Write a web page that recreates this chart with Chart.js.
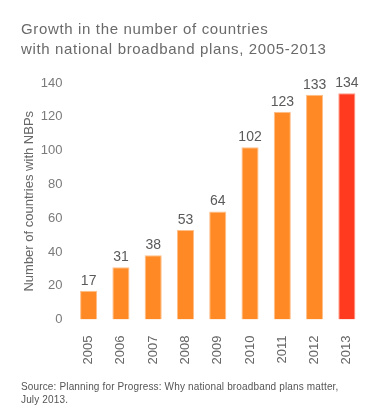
<!DOCTYPE html>
<html>
<head>
<meta charset="utf-8">
<script src="https://cdn.jsdelivr.net/npm/chart.js@4"></script>
<style>
    body { margin: 0; background: #fff; font-family: 'Liberation Sans', Arial, sans-serif; }
    #wrap { position: relative; width: 382px; height: 413px; }
    #title { position: absolute; left: 21px; top: 19px; font-size: 15px; line-height: 20px; color: #6a6a6a; letter-spacing: 0.65px; }
    #source { position: absolute; left: 21px; top: 380px; font-size: 10px; line-height: 13px; color: #555; letter-spacing: 0.15px; }
    canvas { position: absolute; left: 0; top: 0; }
</style>
</head>
<body>
<div id="wrap">
    <canvas id="chart" width="382" height="413"></canvas>
    <div id="title">Growth in the number of countries<br>with national broadband plans, 2005-2013</div>
    <div id="source">Source: Planning for Progress: Why national broadband plans matter,<br>July 2013.</div>
</div>
<script>
const years = ['2005', '2006', '2007', '2008', '2009', '2010', '2011', '2012', '2013'];
const countries = [17, 31, 38, 53, 64, 102, 123, 133, 134];
const yTicks = [0, 20, 40, 60, 80, 100, 120, 140];

const ORANGE = '#ff8a25';
const RED = '#ff3a1e';

// labels above each bar
const valueLabels = {
    id: 'valueLabels',
    afterDatasetsDraw(chart) {
        const ctx = chart.ctx;
        const meta = chart.getDatasetMeta(0);
        ctx.save();
        ctx.font = "14px 'Liberation Sans', Arial, sans-serif";
        ctx.fillStyle = '#5a5a5a';
        ctx.textAlign = 'center';
        ctx.textBaseline = 'bottom';
        meta.data.forEach((bar, i) => {
            ctx.fillText(String(countries[i]), bar.x, bar.y - 3);
        });
        ctx.restore();
    }
};

new Chart(document.getElementById('chart'), {
    type: 'bar',
    data: {
        labels: years,
        datasets: [{
            data: countries,
            backgroundColor: years.map((y, i) => i === years.length - 1 ? RED : ORANGE),
            borderColor: years.map((y, i) => i === years.length - 1 ? '#ff9a88' : '#ffbf8a'),
            borderWidth: 1,
            borderSkipped: 'bottom',
            categoryPercentage: 1,
            barPercentage: 0.53
        }]
    },
    options: {
        responsive: false,
        animation: false,
        layout: { padding: { left: 12, right: 19, top: 83, bottom: 0 } },
        plugins: { legend: { display: false }, tooltip: { enabled: false } },
        scales: {
            x: {
                grid: { display: false },
                border: { display: false },
                ticks: {
                    minRotation: 90, maxRotation: 90, padding: 8,
                    color: '#666',
                    font: { family: "'Liberation Sans', Arial, sans-serif", size: 13 }
                },
                afterFit: s => { s.height = 93.5; }
            },
            y: {
                min: 0, max: 140,
                afterBuildTicks: s => { s.ticks = yTicks.map(v => ({ value: v })); },
                grid: { display: false },
                border: { display: false },
                ticks: {
                    padding: 2,
                    color: '#7a7a7a',
                    font: { family: "'Liberation Sans', Arial, sans-serif", size: 13 }
                },
                title: {
                    display: true,
                    text: 'Number of countries with NBPs',
                    color: '#666',
                    padding: { top: 10, bottom: 0 },
                    font: { family: "'Liberation Sans', Arial, sans-serif", size: 13 }
                },
                afterFit: s => { s.width = 60.5; }
            }
        }
    },
    plugins: [valueLabels]
});
</script>
</body>
</html>
